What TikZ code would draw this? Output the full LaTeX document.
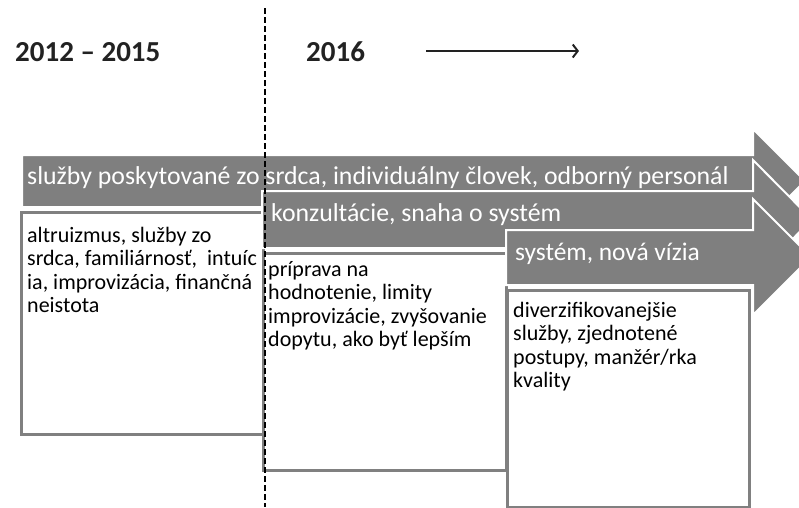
\documentclass[tikz,border=0pt]{standalone}
\usepackage{fontspec}
\setmainfont{Carlito}
\usetikzlibrary{arrows.meta}
\definecolor{arrowgray}{RGB}{127,127,127}
\definecolor{boxgray}{RGB}{128,128,128}
\definecolor{yeartext}{RGB}{34,34,34}
\begin{document}
\begin{tikzpicture}[x=1pt,y=-1pt,
  band/.style={fill=arrowgray, draw=white, line width=2pt, line join=miter},
  boxframe/.style={draw=boxgray, line width=2.8pt, fill=white, anchor=north west, inner sep=0pt},
  bandtext/.style={anchor=base west, text=white, font=\fontsize{25.8}{30}\selectfont, inner sep=0pt},
  boxtext/.style={anchor=north west, align=left, font=\fontsize{22}{23.5}\selectfont, inner sep=0pt},
  yearlabel/.style={anchor=base west, font=\fontsize{29}{34}\selectfont\bfseries, text=yeartext, inner sep=0pt}]
\useasboundingbox (0,0) rectangle (799,507);

% arrow 1
\path[band] (22,155) -- (753,155) -- (753,129) -- (805,181) -- (753,233) -- (753,207) -- (22,207) -- cycle;
\node[bandtext] (t1) at (27,184) {služby poskytované zo srdca, individuálny človek, odborný personál};
% box 1
\node[boxframe, minimum width=242pt, minimum height=222pt] (f1) at (20,211) {};
\node[boxtext] (b1) at (27,224) {\rule{0pt}{18pt}altruizmus, služby zo\\srdca, familiárnosť,\ \ intuíc\\ia, improvizácia, finančná\\neistota};

% arrow 2
\path[band] (262,191) -- (753,191) -- (753,160) -- (812,219.5) -- (753,279) -- (753,248) -- (262,248) -- cycle;
\node[bandtext] (t2) at (271,221) {konzultácie, snaha o systém};
% box 2
\node[boxframe, minimum width=243pt, minimum height=217pt] (f2) at (262,252) {};
\node[boxtext] (b2) at (268,258) {\rule{0pt}{18pt}príprava na\\hodnotenie, limity\\improvizácie, zvyšovanie\\dopytu, ako byť lepším};

% arrow 3
\path[band] (506,230) -- (753,230) -- (753,199) -- (811,257) -- (753,315) -- (753,285) -- (506,285) -- cycle;
\node[bandtext, font=\fontsize{25.4}{30}\selectfont] (t3) at (515,260) {systém, nová vízia};
% box 3
\node[boxframe, minimum width=242pt, minimum height=217pt] (f3) at (506,289) {};
\node[boxtext] (b3) at (513,299) {\rule{0pt}{18pt}diverzifikovanejšie\\služby, zjednotené\\postupy, manžér/rka\\kvality};

% dashed divider
\coordinate (d0) at (265,8);
\coordinate (d1) at (265,507);
\draw[dash pattern=on 6pt off 3pt, line width=1.8pt] (d0) -- (d1);

% years and time arrow
\node[yearlabel] (y1) at (15,61) {2012 – 2015};
\node[yearlabel] (y2) at (306,61) {2016};
\coordinate (a0) at (426,51);
\coordinate (a1) at (579,51);
\draw[line width=2pt, color=yeartext, -{Straight Barb[length=5pt,width=13pt,line width=2pt]}] (a0) -- (a1);
\end{tikzpicture}
\end{document}
